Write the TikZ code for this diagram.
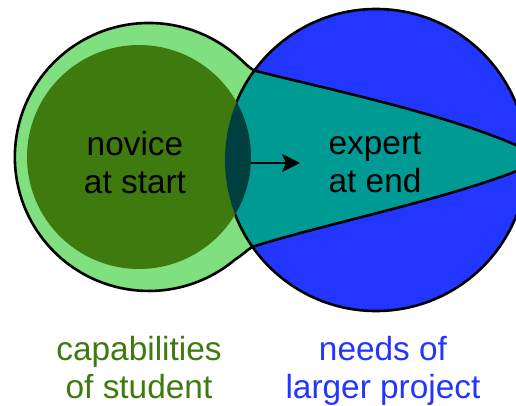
\documentclass[tikz,border=0pt]{standalone}
\usepackage{fontspec}
\setmainfont{Liberation Sans}
\usetikzlibrary{arrows.meta}
\definecolor{lightgr}{RGB}{128,224,128}
\definecolor{darkgr}{RGB}{63,122,15}
\definecolor{tealf}{RGB}{0,154,148}
\definecolor{bluef}{RGB}{34,54,255}
\definecolor{lensf}{RGB}{0,63,64}
\begin{document}
\begin{tikzpicture}[x=1pt,y=-1pt,
  outl/.style={line width=2.6pt, draw=black},
  lbl/.style={font=\fontsize{33.4}{38}\selectfont, inner sep=0pt, anchor=base},
  arrowline/.style={line width=2pt, -{Stealth[length=18pt,width=18pt,inset=4pt]}}]
\useasboundingbox (0,0) rectangle (516,405);
\clip (0,0) rectangle (516,405);
\def\Lpath{(235,259.6) arc[start angle=50, end angle=310, radius=134]
  .. controls (243,61) and (248,67) .. (254,70.5)
  .. controls (330,90) and (470,118) .. (545,159)
  .. controls (470,195) and (330,222) .. (252,247)
  .. controls (246,251) and (241,256) .. cycle}
% light green region (student + growth funnel)
\fill[lightgr] \Lpath;
% blue circle (project needs)
\node[circle, minimum size=302pt, inner sep=0pt, fill=bluef] (needs) at (376,160) {};
\begin{scope}
  \clip \Lpath;
  \fill[tealf] (needs.center) circle[radius=151];
\end{scope}
\draw[outl] (needs.center) circle[radius=151];
\draw[outl] \Lpath;
% dark green circle (novice)
\node[circle, minimum size=224pt, inner sep=0pt, fill=darkgr] (novicecirc) at (139,157) {};
\begin{scope}
  \clip (needs.center) circle[radius=151];
  \fill[lensf] (novicecirc.center) circle[radius=112];
\end{scope}
% arrow
\coordinate (arrowstart) at (251,163);
\coordinate (arrowtip) at (300,163);
\draw[arrowline] (arrowstart) -- (arrowtip);
% labels
\node[lbl] (novice) at (135,155) {\begin{tabular}[t]{@{}c@{}}novice\\at start\end{tabular}};
\node[lbl] (expert) at (375,154) {\begin{tabular}[t]{@{}c@{}}expert\\at end\end{tabular}};
\node[lbl, text=darkgr] (capab) at (139,360) {\begin{tabular}[t]{@{}c@{}}capabilities\\of student\end{tabular}};
\node[lbl, text=bluef] (needstxt) at (383,360) {\begin{tabular}[t]{@{}c@{}}needs of\\larger project\end{tabular}};
\end{tikzpicture}
\end{document}
